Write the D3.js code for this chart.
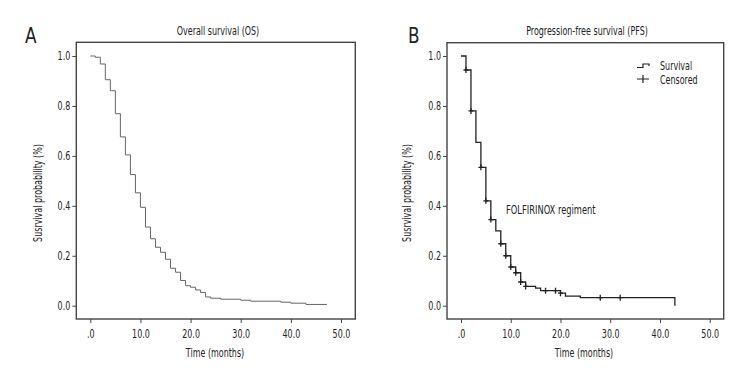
<!DOCTYPE html>
<html>
<head>
<meta charset="utf-8">
<script src="https://cdn.jsdelivr.net/npm/d3@7"></script>
<style>
  body { margin: 0; background: #fff; }
  svg text { font-family: "Liberation Sans Narrow", "DejaVu Sans Condensed", "Arial Narrow", sans-serif; fill: #222; }
</style>
</head>
<body>
<svg id="chart" width="756" height="384"></svg>
<script>
// overall survival (panel A)
var osTimes = [0, 1, 2, 3, 4, 5, 6, 7, 8, 9, 10, 11, 12, 13, 14, 15, 16, 17, 18, 19, 20, 21, 22, 23, 24, 26, 30, 32, 38, 40, 43, 47.2];
var osSurv  = [1.0, 0.995, 0.968, 0.905, 0.861, 0.769, 0.676, 0.604, 0.525, 0.452, 0.394, 0.315, 0.268, 0.234, 0.214, 0.186, 0.150, 0.134, 0.101, 0.080, 0.074, 0.063, 0.053, 0.035, 0.030, 0.026, 0.022, 0.018, 0.014, 0.010, 0.005, 0.005];

// progression-free survival (panel B)
var pfsTimes = [0, 1, 2, 3, 4, 5, 6, 7, 8, 9, 10, 11, 12, 13, 15, 16, 20, 21, 24, 43, 43];
var pfsSurv  = [1.0, 0.944, 0.78, 0.654, 0.554, 0.42, 0.345, 0.30, 0.248, 0.20, 0.155, 0.132, 0.095, 0.077, 0.070, 0.060, 0.050, 0.038, 0.032, 0.032, 0.0];
// censored observations (months)
var pfsCensored = [1, 2, 4, 5, 6, 8, 9, 10, 11, 12, 13, 17, 19, 20, 28, 32];

var xTicks = [0, 10, 20, 30, 40, 50];
var xTickLabels = [".0", "10.0", "20.0", "30.0", "40.0", "50.0"];
var yTicks = [0, 0.2, 0.4, 0.6, 0.8, 1.0];
var yTickLabels = ["0.0", "0.2", "0.4", "0.6", "0.8", "1.0"];

var svg = d3.select("#chart");
var SX = 0.74; // squeeze the condensed font, the original uses a narrow face
var FS = 12;

// step value of the curve at time t
function survAt(times, surv, t) {
  var v = surv[0];
  for (var i = 0; i < times.length; i++) {
    if (times[i] <= t) v = surv[i];
  }
  return v;
}

// text placed at x,y, optionally rotated, narrowed horizontally
function addText(parent, x, y, str, size, anchor, rot, sx) {
  return parent.append("text")
    .attr("transform", "translate(" + x + "," + y + ")" + (rot ? " rotate(" + rot + ")" : "") + " scale(" + (sx || SX) + ",1)")
    .attr("text-anchor", anchor || "start")
    .style("font-size", size + "px")
    .text(str);
}

function drawPanel(p) {
  var g = svg.append("g");
  var x = d3.scaleLinear().domain([0, 50]).range([p.x0, p.x50]);
  var y = d3.scaleLinear().domain([0, 1]).range([305.7, 56]);

  // x axis
  var xAxis = d3.axisBottom(x)
    .tickValues(xTicks)
    .tickFormat(function(d, i) { return xTickLabels[i]; })
    .tickSize(4).tickPadding(6);
  var xa = g.append("g").attr("transform", "translate(0," + p.bottom + ")").call(xAxis);
  xa.select(".domain").remove();
  xa.selectAll("line").attr("stroke", "#444");
  xa.selectAll("text").style("font-size", FS + "px")
    .attr("transform", "scale(" + SX + ",1)");

  // y axis
  var yAxis = d3.axisLeft(y)
    .tickValues(yTicks)
    .tickFormat(function(d, i) { return yTickLabels[i]; })
    .tickSize(4).tickPadding(3);
  var ya = g.append("g").attr("transform", "translate(" + p.left + ",0)").call(yAxis);
  ya.select(".domain").remove();
  ya.selectAll("line").attr("stroke", "#444");
  ya.selectAll("text").style("font-size", FS + "px")
    .attr("x", -6 / SX)
    .attr("transform", "scale(" + SX + ",1)");

  // box
  g.append("rect")
    .attr("x", p.left).attr("y", p.top)
    .attr("width", p.right - p.left).attr("height", p.bottom - p.top)
    .attr("fill", "none").attr("stroke", "#444").attr("stroke-width", 1.4);

  // curve
  var pts = p.times.map(function(t, i) { return [t, p.surv[i]]; });
  var line = d3.line()
    .x(function(d) { return x(d[0]); })
    .y(function(d) { return y(d[1]); })
    .curve(d3.curveStepAfter);
  g.append("path")
    .attr("d", line(pts))
    .attr("fill", "none")
    .attr("stroke", p.color)
    .attr("stroke-width", p.width);

  // censor marks
  if (p.censored) {
    p.censored.forEach(function(t) {
      var cx = x(t), cy = y(survAt(p.times, p.surv, t));
      g.append("path")
        .attr("d", "M" + (cx - 2.5) + "," + cy + "H" + (cx + 2.5) + "M" + cx + "," + (cy - 3) + "V" + (cy + 3))
        .attr("stroke", p.color).attr("stroke-width", 1.3).attr("fill", "none");
    });
  }

  // titles and labels
  addText(g, p.letterX, 43, p.letter, 22, "start", 0, 0.85);
  addText(g, p.titleX, 35, p.title, FS, "middle");
  addText(g, p.titleX - 3, 357, "Time (months)", FS, "middle");
  addText(g, p.yLabelX, 193, "Susrvival probability (%)", FS, "middle", -90);
  return g;
}

drawPanel({
  left: 76.3, right: 355.3, top: 42.3, bottom: 319,
  x0: 90.3, x50: 341,
  times: osTimes, surv: osSurv,
  color: "#666", width: 1,
  letter: "A", letterX: 25, title: "Overall survival (OS)", titleX: 218, yLabelX: 42
});

var gB = drawPanel({
  left: 447, right: 723.7, top: 42.7, bottom: 319,
  x0: 461, x50: 709.7,
  times: pfsTimes, surv: pfsSurv, censored: pfsCensored,
  color: "#222", width: 1.3,
  letter: "B", letterX: 408, title: "Progression-free survival (PFS)", titleX: 587, yLabelX: 411
});

// legend
gB.append("path").attr("d", "M637,67.5H643V64H649V66")
  .attr("fill", "none").attr("stroke", "#222").attr("stroke-width", 1.2);
addText(gB, 660, 70, "Survival", FS, "start");
gB.append("path").attr("d", "M637,79H649M643,75V83")
  .attr("fill", "none").attr("stroke", "#222").attr("stroke-width", 1.2);
addText(gB, 660, 83.5, "Censored", FS, "start");

addText(gB, 506, 213.5, "FOLFIRINOX regiment", 12.5, "start");
</script>
</body>
</html>
